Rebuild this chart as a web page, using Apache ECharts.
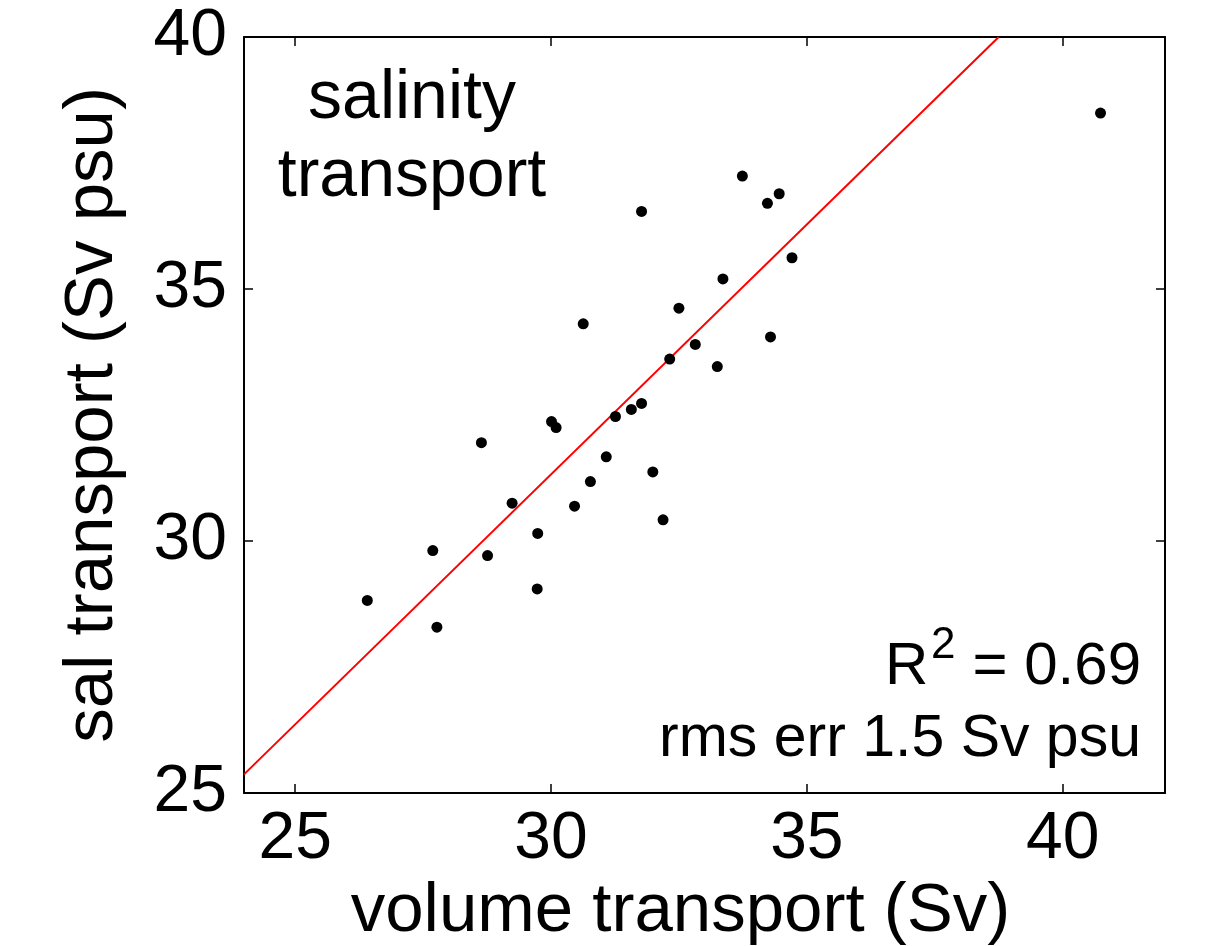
<!DOCTYPE html>
<html>
<head>
<meta charset="utf-8">
<script src="https://cdn.jsdelivr.net/npm/echarts@6/dist/echarts.min.js"></script>
<style>
  html, body { margin: 0; padding: 0; background: #fff; }
  #chart { width: 1209px; height: 946px; }
</style>
</head>
<body>
<div id="chart"></div>
<script>
// volume transport (Sv) vs salinity transport (Sv psu)
const volumeTransport = [26.41, 27.69, 27.77, 28.64, 28.76, 29.24, 29.74, 29.73, 30.01, 30.10,
  30.46, 30.63, 30.77, 31.08, 31.26, 31.57, 31.77, 31.77, 31.99, 32.19,
  32.32, 32.50, 32.82, 33.25, 33.36, 33.74, 34.23, 34.46, 34.29, 34.71, 40.74]
const salTransport = [28.82, 29.81, 28.29, 31.95, 29.71, 30.75, 30.15, 29.05, 32.37, 32.25,
  30.69, 34.31, 31.18, 31.67, 32.47, 32.61, 32.73, 36.54, 31.37, 30.42,
  33.61, 34.62, 33.90, 33.46, 35.20, 37.24, 36.70, 36.89, 34.05, 35.62, 38.49]

// regression line end points
const fitX = [24, 38.75]
const fitY = [25.37, 40]

const xTicks = [25, 30, 35, 40]

const FONT = '"Liberation Sans", Arial, Helvetica, sans-serif'

const chart = echarts.init(document.getElementById('chart'))

const boxLine = { show: true, onZero: false, lineStyle: { color: '#000', width: 2 } }
const tickStyle = { color: '#000', width: 1.5 }

const option = {
  backgroundColor: '#fff',
  animation: false,
  textStyle: { fontFamily: FONT, color: '#000' },
  grid: { left: 244, right: 44, top: 37, bottom: 153, containLabel: false, outerBoundsMode: 'none' },
  xAxis: [
    {
      type: 'value',
      min: 24,
      max: 42,
      position: 'bottom',
      axisLine: boxLine,
      axisTick: { inside: true, length: 9, customValues: xTicks, lineStyle: tickStyle },
      axisLabel: { customValues: xTicks, fontSize: 66, lineHeight: 66, margin: 14, color: '#000', fontFamily: FONT },
      splitLine: { show: false },
      name: 'volume transport (Sv)',
      nameLocation: 'middle',
      nameGap: 79,
      nameTextStyle: { fontSize: 69, lineHeight: 69, color: '#000', fontFamily: FONT, padding: [0, 48, 0, 0] }
    },
    {
      type: 'value',
      min: 24,
      max: 42,
      position: 'top',
      axisLine: boxLine,
      axisTick: { inside: true, length: 9, customValues: xTicks, lineStyle: tickStyle },
      axisLabel: { show: false },
      splitLine: { show: false }
    }
  ],
  yAxis: [
    {
      type: 'value',
      min: 25,
      max: 40,
      interval: 5,
      position: 'left',
      axisLine: boxLine,
      axisTick: { inside: true, length: 9, lineStyle: tickStyle },
      axisLabel: { fontSize: 66, lineHeight: 66, margin: 17, color: '#000', fontFamily: FONT },
      splitLine: { show: false },
      name: 'sal transport (Sv psu)',
      nameLocation: 'middle',
      nameRotate: 90,
      nameGap: 117,
      nameTextStyle: { fontSize: 69, lineHeight: 69, color: '#000', fontFamily: FONT }
    },
    {
      type: 'value',
      min: 25,
      max: 40,
      interval: 5,
      position: 'right',
      axisLine: boxLine,
      axisTick: { inside: true, length: 9, lineStyle: tickStyle },
      axisLabel: { show: false },
      splitLine: { show: false }
    }
  ],
  series: [
    {
      type: 'line',
      data: fitX.map((x, i) => [x, fitY[i]]),
      symbol: 'none',
      lineStyle: { color: '#ff0000', width: 2 },
      z: 2
    },
    {
      type: 'scatter',
      data: volumeTransport.map((x, i) => [x, salTransport[i]]),
      symbol: 'circle',
      symbolSize: 11,
      itemStyle: { color: '#000', opacity: 1 },
      z: 3
    }
  ],
  graphic: [
    {
      type: 'text',
      x: 412,
      y: 138,
      style: {
        text: 'salinity\ntransport',
        align: 'center',
        verticalAlign: 'middle',
        fontSize: 68,
        lineHeight: 78,
        fontFamily: FONT,
        fill: '#000'
      }
    },
    {
      type: 'text',
      x: 885,
      y: 667,
      style: { text: 'R', align: 'left', verticalAlign: 'middle', fontSize: 60, fontFamily: FONT, fill: '#000' }
    },
    {
      type: 'text',
      x: 931,
      y: 646,
      style: { text: '2', align: 'left', verticalAlign: 'middle', fontSize: 44, fontFamily: FONT, fill: '#000' }
    },
    {
      type: 'text',
      x: 1141,
      y: 667,
      style: { text: '= 0.69', align: 'right', verticalAlign: 'middle', fontSize: 60, fontFamily: FONT, fill: '#000' }
    },
    {
      type: 'text',
      x: 1141,
      y: 740,
      style: { text: 'rms err 1.5 Sv psu', align: 'right', verticalAlign: 'middle', fontSize: 59, fontFamily: FONT, fill: '#000' }
    }
  ]
}

chart.setOption(option)
</script>
</body>
</html>
